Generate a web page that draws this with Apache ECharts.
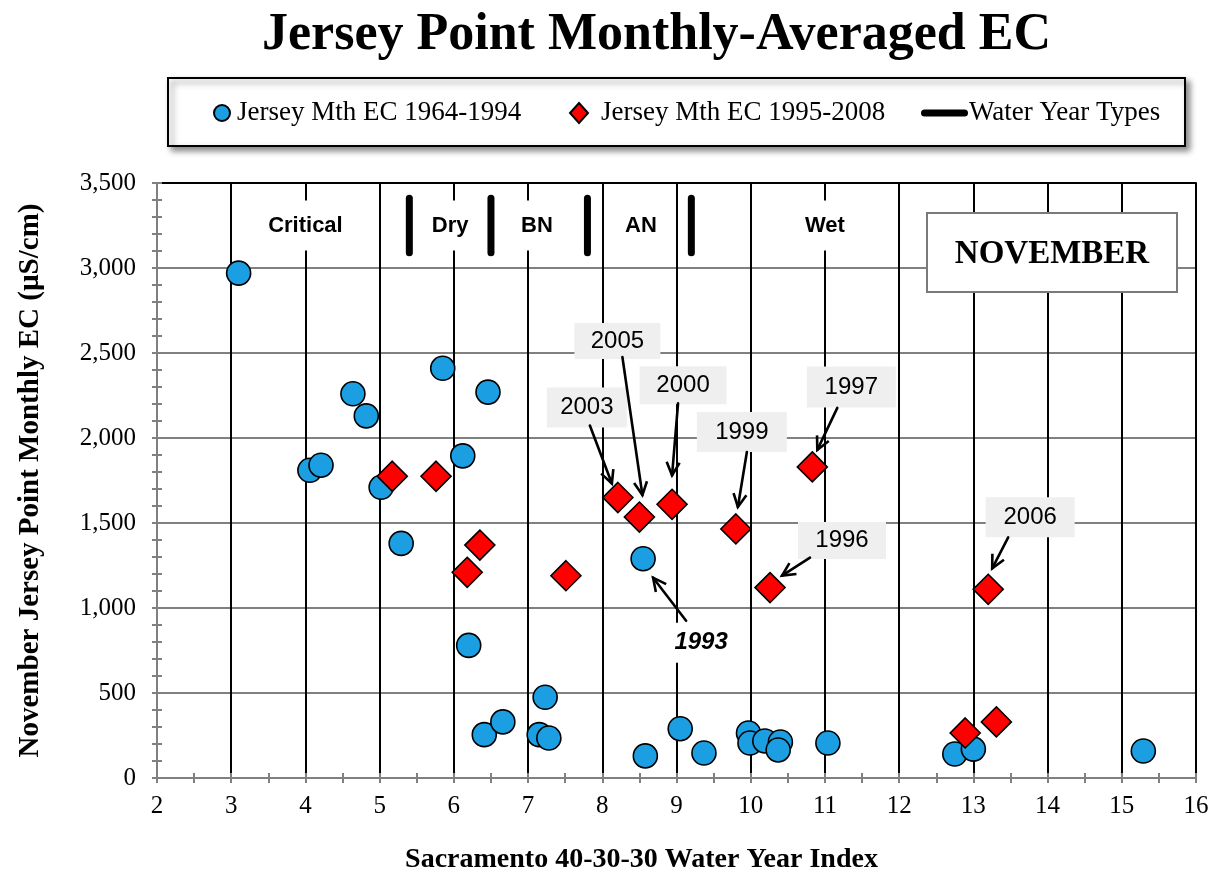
<!DOCTYPE html>
<html><head><meta charset="utf-8">
<script src="https://cdn.jsdelivr.net/npm/echarts@6/dist/echarts.min.js"></script>
<style>html,body{margin:0;padding:0;background:#fff}#c{width:1222px;height:881px}</style>
</head><body><div id="c"></div>
<script>
// ---- data ----
const xTicks = [2,3,4,5,6,7,8,9,10,11,12,13,14,15,16];
const yTicks = [0,500,1000,1500,2000,2500,3000,3500];

const blueX = [3.10,4.06,4.21,4.64,4.82,5.02,5.29,5.85,6.12,6.46,6.20,6.41,6.66,7.23,7.15,7.28,8.55,8.58,9.05,9.37,9.97,9.99,10.19,10.40,10.37,11.04,12.75,13.00,15.29];
const blueY = [2970,1810,1840,2260,2130,1710,1380,2410,1895,2270,780,255,330,475,255,235,1290,130,290,147,265,206,218,212,165,206,141,170,159];

const redX = [5.17,5.76,6.18,6.35,7.51,8.21,8.50,8.94,9.80,10.26,10.83,12.89,13.20,13.31];
const redY = [1775,1775,1210,1370,1190,1650,1535,1610,1465,1120,1830,265,1110,330];

const wytNames = ['Critical','Dry','BN','AN','Wet'];
const wytCenters = [4.0,5.95,7.12,8.52,11.0];
const wytThresholds = [5.4,6.5,7.8,9.2];

const annoYears = ['2003','2005','2000','1999','1997','1996','2006','1993'];
const annoX = [8.21,8.50,8.94,9.80,10.83,10.26,13.20,8.55];
const annoY = [1650,1535,1610,1465,1830,1120,1110,1290];

// ---- layout (pixel offsets from the marked point) ----
const annoLayout = [
  {tx:-31,ty:-90, sx:-28,sy:-72, ex:-6,ey:-14, w:80,h:40, bg:'#efefef', it:false},
  {tx:-22,ty:-176,sx:-17,sy:-160,ex:3,ey:-22,  w:86,h:36, bg:'#efefef', it:false},
  {tx:11,ty:-119, sx:6,sy:-101,  ex:0,ey:-29,  w:87,h:38, bg:'#efefef', it:false},
  {tx:6,ty:-97,   sx:11,sy:-77,  ex:2,ey:-22,  w:90,h:40, bg:'#efefef', it:false},
  {tx:39,ty:-80,  sx:25,sy:-59,  ex:5,ey:-17,  w:89,h:41, bg:'#efefef', it:false},
  {tx:72,ty:-47,  sx:40,sy:-30,  ex:12,ey:-12, w:88,h:37, bg:'#efefef', it:false},
  {tx:42,ty:-72,  sx:20,sy:-52,  ex:4,ey:-21,  w:89,h:40, bg:'#efefef', it:false},
  {tx:58,ty:84,   sx:43,sy:62,   ex:10,ey:19,  w:64,h:40, bg:'#ffffff', it:true}
];
const barLow = 3090, barHigh = 3410, wytLabelY = 3250;

const SERIF = "'Liberation Serif','Times New Roman',serif";
const SANS = "'Liberation Sans',Arial,sans-serif";
const GRAY = '#808080';

const chart = echarts.init(document.getElementById('c'));

const legendText = {fontFamily: SERIF, fontSize: 27, color: '#000', lineHeight: 28};

const option = {
  backgroundColor: '#fff',
  animation: false,
  title: {
    text: 'Jersey Point Monthly-Averaged EC',
    left: 257, top: 5,
    textStyle: {fontFamily: SERIF, fontWeight: 'bold', fontSize: 52, color: '#000'}
  },
  grid: {left: 157, top: 183, right: 26, bottom: 103},
  legend: [
    {data: [{name: 'Jersey Mth EC 1964-1994', icon: 'circle'}], left: 213, top: 99, padding: 0,
     itemWidth: 16, itemHeight: 16, selectedMode: false, z: 10,
     textStyle: Object.assign({padding: [0,0,0,2]}, legendText)},
    {data: [{name: 'Jersey Mth EC 1995-2008', icon: 'diamond'}], left: 569, top: 99, padding: 0,
     itemWidth: 18, itemHeight: 20, selectedMode: false, z: 10,
     textStyle: Object.assign({padding: [0,0,0,8]}, legendText)},
    {data: [{name: 'Water Year Types', icon: 'path://M3.5,0 L43.5,0 Q47,0 47,3.5 Q47,7 43.5,7 L3.5,7 Q0,7 0,3.5 Q0,0 3.5,0 Z'}],
     left: 921, top: 99, padding: 0, itemWidth: 47, itemHeight: 7, itemGap: 0, selectedMode: false, z: 10,
     textStyle: Object.assign({padding: [0,0,0,-4]}, legendText)}
  ],
  graphic: {
    elements: [
      {type: 'rect', z: 1, shape: {x: 168, y: 78, width: 1017, height: 68},
       style: {fill: '#fff', stroke: '#000', lineWidth: 2, shadowBlur: 6, shadowOffsetX: 4, shadowOffsetY: 4, shadowColor: 'rgba(0,0,0,0.45)'}},
      {type: 'rect', z: 20, shape: {x: 927, y: 213, width: 250, height: 79},
       style: {fill: '#fff', stroke: '#7a7a7a', lineWidth: 2}},
      {type: 'text', z: 21, style: {text: 'NOVEMBER', x: 1052, y: 254, align: 'center', verticalAlign: 'middle',
       fontFamily: SERIF, fontWeight: 'bold', fontSize: 33, fill: '#000'}}
    ]
  },
  xAxis: [
    {type: 'value', min: xTicks[0], max: xTicks[xTicks.length-1], interval: xTicks[1]-xTicks[0], position: 'bottom',
     axisLine: {show: true, lineStyle: {color: GRAY, width: 2}},
     axisTick: {show: true, length: 5, lineStyle: {color: GRAY, width: 2}},
     minorTick: {show: true, splitNumber: 2, length: 5, lineStyle: {color: GRAY, width: 2}},
     axisLabel: {fontFamily: SERIF, fontSize: 25, color: '#000', margin: 16},
     splitLine: {show: true, showMinLine: false, lineStyle: {color: '#000', width: 2}},
     name: 'Sacramento 40-30-30 Water Year Index', nameLocation: 'middle', nameGap: 68,
     nameTextStyle: {fontFamily: SERIF, fontWeight: 'bold', fontSize: 28, color: '#000', padding: [0, 70, 0, 0]}},
    {type: 'value', min: xTicks[0], max: xTicks[xTicks.length-1], interval: xTicks[1]-xTicks[0], position: 'bottom',
     axisLine: {show: false}, axisLabel: {show: false}, splitLine: {show: false},
     axisTick: {show: true, inside: true, length: 5, lineStyle: {color: GRAY, width: 2}},
     minorTick: {show: true, splitNumber: 2, length: 5, lineStyle: {color: GRAY, width: 2}}},
    {type: 'value', min: xTicks[0], max: xTicks[xTicks.length-1], position: 'top',
     axisLine: {show: true, lineStyle: {color: '#000', width: 2}}, axisTick: {show: false},
     axisLabel: {show: false}, splitLine: {show: false}}
  ],
  yAxis: [
    {type: 'value', min: yTicks[0], max: yTicks[yTicks.length-1], interval: yTicks[1]-yTicks[0],
     axisLine: {show: true, lineStyle: {color: GRAY, width: 2}},
     axisTick: {show: true, length: 5, lineStyle: {color: GRAY, width: 2}},
     minorTick: {show: true, splitNumber: 5, length: 5, lineStyle: {color: GRAY, width: 2}},
     axisLabel: {fontFamily: SERIF, fontSize: 25, color: '#000', margin: 21,
       formatter: v => v.toLocaleString('en-US')},
     splitLine: {show: true, showMinLine: false, showMaxLine: false, lineStyle: {color: GRAY, width: 2}},
     name: 'November Jersey Point Monthly EC (\u00b5S/cm)', nameLocation: 'middle', nameGap: 112,
     nameTextStyle: {fontFamily: SERIF, fontWeight: 'bold', fontSize: 29, color: '#000'}},
    {type: 'value', min: yTicks[0], max: yTicks[yTicks.length-1], interval: yTicks[1]-yTicks[0], position: 'left',
     axisLine: {show: false}, axisLabel: {show: false}, splitLine: {show: false},
     axisTick: {show: true, inside: true, length: 5, lineStyle: {color: GRAY, width: 2}},
     minorTick: {show: true, splitNumber: 5, length: 5, lineStyle: {color: GRAY, width: 2}}}
  ],
  series: [
    {
      name: 'Water Year Types', type: 'custom', z: 3, silent: true,
      itemStyle: {color: '#000'},
      data: wytThresholds.map(t => [t, wytLabelY]),
      encode: {x: 0, y: 1},
      renderItem: function (params, api) {
        const x = api.value(0);
        const a = api.coord([x, barLow]), b = api.coord([x, barHigh]);
        return {type: 'line', shape: {x1: a[0], y1: a[1], x2: b[0], y2: b[1]},
          style: {stroke: '#000', lineWidth: 7, lineCap: 'round'}};
      }
    },
    {
      name: 'wytLabels', type: 'custom', z: 3, silent: true,
      data: wytCenters.map(c => [c, wytLabelY]),
      encode: {x: 0, y: 1},
      renderItem: function (params, api) {
        const p = api.coord([api.value(0), api.value(1)]);
        return {type: 'text', style: {text: wytNames[params.dataIndex], x: p[0], y: p[1],
          align: 'center', verticalAlign: 'middle', fontFamily: SANS, fontWeight: 'bold', fontSize: 22,
          fill: '#000', backgroundColor: '#fff', padding: [14, 3]}};
      }
    },
    {
      name: 'Jersey Mth EC 1964-1994', type: 'scatter', z: 4,
      symbol: 'circle', symbolSize: 24,
      itemStyle: {color: '#1b9fe2', borderColor: '#000', borderWidth: 1.6, opacity: 1},
      data: blueX.map((x, i) => [x, blueY[i]])
    },
    {
      name: 'Jersey Mth EC 1995-2008', type: 'scatter', z: 5,
      symbol: 'diamond', symbolSize: 30,
      itemStyle: {color: '#ff0000', borderColor: '#000', borderWidth: 1.6, opacity: 1},
      data: redX.map((x, i) => [x, redY[i]])
    },
    {
      name: 'annotations', type: 'custom', z: 6, silent: true,
      data: annoX.map((x, i) => [x, annoY[i]]),
      encode: {x: 0, y: 1},
      renderItem: function (params, api) {
        const i = params.dataIndex;
        const p = api.coord([api.value(0), api.value(1)]);
        const L = annoLayout[i];
        const cx = p[0] + L.tx, cy = p[1] + L.ty;
        const sx = p[0] + L.sx, sy = p[1] + L.sy, ex = p[0] + L.ex, ey = p[1] + L.ey;
        const dx = ex - sx, dy = ey - sy, len = Math.hypot(dx, dy);
        const ux = dx / len, uy = dy / len, ah = 13, aw = 6.5;
        const bx = ex - ux * ah, by = ey - uy * ah;
        return {type: 'group', children: [
          {type: 'rect', shape: {x: cx - L.w / 2, y: cy - L.h / 2, width: L.w, height: L.h}, style: {fill: L.bg}},
          {type: 'text', style: {text: annoYears[i], x: cx, y: cy, align: 'center', verticalAlign: 'middle',
            fontFamily: SANS, fontSize: 24, fontWeight: L.it ? 'bold' : 'normal', fontStyle: L.it ? 'italic' : 'normal', fill: '#000'}},
          {type: 'line', shape: {x1: sx, y1: sy, x2: ex, y2: ey}, style: {stroke: '#000', lineWidth: 2.6, lineCap: 'round'}},
          {type: 'polyline', shape: {points: [[bx - uy * aw, by + ux * aw], [ex, ey], [bx + uy * aw, by - ux * aw]]},
            style: {stroke: '#000', lineWidth: 2.6, fill: 'none', lineJoin: 'miter'}}
        ]};
      }
    }
  ]
};
chart.setOption(option);
</script>
</body></html>
